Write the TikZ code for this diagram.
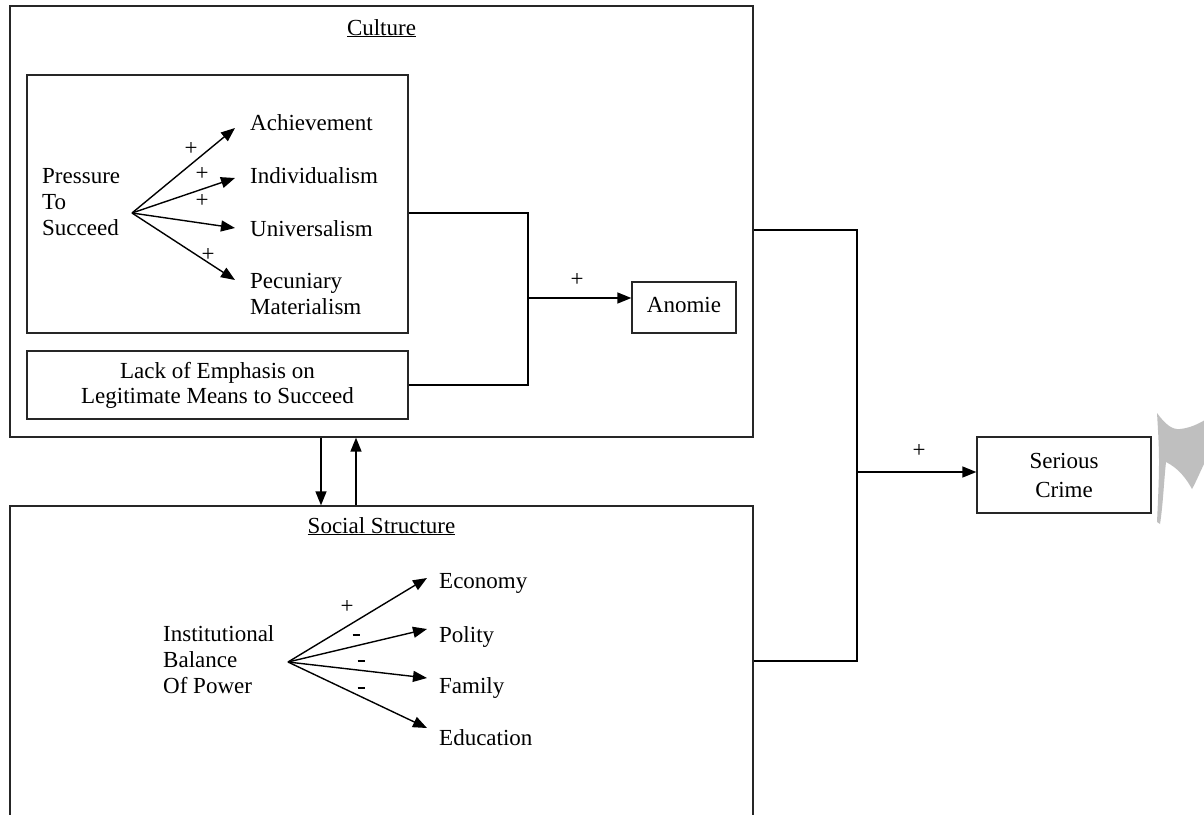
\documentclass[tikz,border=0pt]{standalone}
\usepackage{fontspec}
\setmainfont{Liberation Serif}
\usetikzlibrary{arrows.meta}
\begin{document}
\begin{tikzpicture}[x=1pt,y=-1pt,
  every node/.style={inner sep=0pt, font=\fontsize{23}{26}\selectfont},
  box/.style={draw=black!85, line width=1.3pt, rectangle},
  lbl/.style={anchor=base west},
  multi/.style={anchor=base west, align=left},
  sign/.style={},
  conn/.style={draw=black, line width=1.4pt},
  arr/.style={conn, -{Triangle[length=14pt,width=11pt]}},
  blob/.style={fill=black!25, draw=none}
]
\clip (0,0) rectangle (1204,814);
\fill[white] (0,0) rectangle (1204,814);

% outer boxes
\node[box, minimum width=743pt, minimum height=431pt] (culture) at (381.5,221.5) {};
\node[box, minimum width=743pt, minimum height=340pt] (ss) at (381.5,676) {};
\node[anchor=base] (ctitle) at (381.5,35) {\underline{Culture}};
\node[anchor=base] (stitle) at (381.5,533) {\underline{Social Structure}};

% inner culture boxes
\node[box, minimum width=381pt, minimum height=258pt] (inner) at (217.5,204) {};
\node[box, minimum width=381pt, minimum height=68pt, align=center,
      font=\fontsize{23}{25}\selectfont] (lack) at (217.5,385)
      {Lack of Emphasis on\\Legitimate Means to Succeed};

% pressure fan
\node[multi] (pressure) at (42,235) {Pressure\\To\\Succeed};
\coordinate (p0) at (132,213);
\coordinate (t1) at (235,128);
\coordinate (t2) at (235,178);
\coordinate (t3) at (235,228);
\coordinate (t4) at (235,280);
\draw[arr] (p0) -- (t1);
\draw[arr] (p0) -- (t2);
\draw[arr] (p0) -- (t3);
\draw[arr] (p0) -- (t4);
\node[lbl] (ach) at (250,130) {Achievement};
\node[lbl] (ind) at (250,183) {Individualism};
\node[lbl] (uni) at (250,236) {Universalism};
\node[multi] (pec) at (250,314) {Pecuniary\\Materialism};
\node[sign] (s1) at (191,149) {+};
\node[sign] (s2) at (202,174) {+};
\node[sign] (s3) at (202,201) {+};
\node[sign] (s4) at (208,255) {+};

% anomie
\node[box, minimum width=104pt, minimum height=51pt] (anomie) at (684,307.5) {\raisebox{5pt}{Anomie}};
\coordinate (jA) at (528,298);
\draw[conn] ([yshift=-9pt]inner.east) -| (jA);
\draw[conn] (lack.east) -| (jA);
\draw[arr] (jA) -- (jA -| anomie.west);
\node[sign] (sA) at (577,280) {+};

% culture <-> social structure
\draw[arr] ([xshift=-60.5pt]culture.south) -- ([xshift=-60.5pt]ss.north);
\draw[arr] ([xshift=-25.5pt]ss.north) -- ([xshift=-25.5pt]culture.south);

% institutional fan
\node[multi] (inst) at (163,693) {Institutional\\Balance\\Of Power};
\coordinate (q0) at (288,662);
\coordinate (u1) at (427,578);
\coordinate (u2) at (427,629);
\coordinate (u3) at (427,678);
\coordinate (u4) at (427,728);
\draw[arr] (q0) -- (u1);
\draw[arr] (q0) -- (u2);
\draw[arr] (q0) -- (u3);
\draw[arr] (q0) -- (u4);
\node[lbl] (eco) at (439,588) {Economy};
\node[lbl] (pol) at (439,642) {Polity};
\node[lbl] (fam) at (439,693) {Family};
\node[lbl] (edu) at (439,745) {Education};
\node[sign] (m1) at (347,607) {+};
\node (m2) at (356,635) {\rule{7pt}{2.6pt}};
\node (m3) at (361,661) {\rule{7pt}{2.6pt}};
\node (m4) at (361,688) {\rule{7pt}{2.6pt}};

% serious crime
\node[box, minimum width=174pt, minimum height=76pt, align=center,
      font=\fontsize{23}{29}\selectfont] (crime) at (1064,475) {Serious\\Crime};
\coordinate (jB) at (857,472);
\draw[conn] ([yshift=-8.5pt]culture.east) -| (jB);
\draw[conn] ([yshift=15pt]ss.east) -| (jB);
\draw[arr] (jB) -- (jB -| crime.west);
\node[sign] (sB) at (919,451) {+};

% grey mark at right edge
\fill[blob] (1157,413) .. controls (1165,424) and (1172,430) .. (1180,429)
  .. controls (1190,428) and (1198,424) .. (1205,420) -- (1205,462)
  .. controls (1200,472) and (1196,482) .. (1192,489)
  .. controls (1186,478) and (1178,468) .. (1166,462)
  .. controls (1164,480) and (1163,505) .. (1160,524)
  -- (1157,522) .. controls (1158,500) and (1159,480) .. (1159,462)
  .. controls (1159,445) and (1158,430) .. (1157,413) -- cycle;
\end{tikzpicture}
\end{document}
